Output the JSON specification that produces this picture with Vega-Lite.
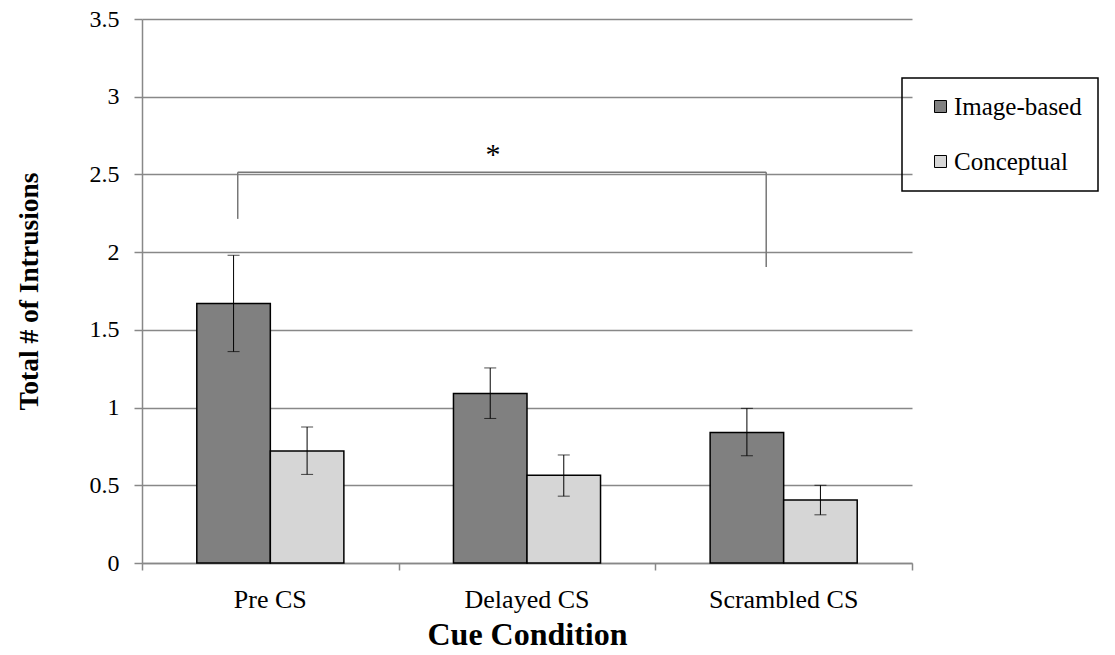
{
  "$schema": "https://vega.github.io/schema/vega-lite/v6.json",
  "width": 770,
  "height": 544,
  "autosize": {"type": "none"},
  "padding": {"left": 142, "top": 19, "right": 203, "bottom": 92},
  "background": "white",
  "config": {
    "font": "Liberation Serif",
    "view": {"stroke": null},
    "axis": {"labelColor": "black", "titleColor": "black", "labelFont": "Liberation Serif", "titleFont": "Liberation Serif"}
  },
  "datasets": {
    "bars": [
      {"cue": "Pre CS", "type": "Image-based", "mean": 1.67, "lo": 1.36, "hi": 1.98},
      {"cue": "Pre CS", "type": "Conceptual", "mean": 0.72, "lo": 0.57, "hi": 0.875},
      {"cue": "Delayed CS", "type": "Image-based", "mean": 1.09, "lo": 0.93, "hi": 1.255},
      {"cue": "Delayed CS", "type": "Conceptual", "mean": 0.565, "lo": 0.43, "hi": 0.695},
      {"cue": "Scrambled CS", "type": "Image-based", "mean": 0.84, "lo": 0.69, "hi": 0.995},
      {"cue": "Scrambled CS", "type": "Conceptual", "mean": 0.405, "lo": 0.31, "hi": 0.5}
    ],
    "bracket": [
      {"x": 0.373, "x2": 2.432, "y": 2.514, "y2": 2.514},
      {"x": 0.373, "x2": 0.373, "y": 2.514, "y2": 2.214},
      {"x": 2.432, "x2": 2.432, "y": 2.514, "y2": 1.905}
    ],
    "star": [
      {"x": 1.368, "y": 2.57, "label": "*"}
    ]
  },
  "layer": [
    {
      "data": {"name": "bars"},
      "encoding": {
        "x": {
          "field": "cue", "type": "nominal",
          "sort": ["Pre CS", "Delayed CS", "Scrambled CS"],
          "scale": {"paddingInner": 0.427, "paddingOuter": 0.2135},
          "axis": {
            "orient": "bottom", "title": "Cue Condition", "labelAngle": 0,
            "ticks": false, "tickSize": 0, "domain": true, "domainColor": "#888888", "domainWidth": 1.5,
            "labelFontSize": 26, "labelPadding": 23,
            "titleFontSize": 32, "titleFontWeight": "bold", "titlePadding": 7
          }
        },
        "xOffset": {"field": "type", "type": "nominal", "sort": ["Image-based", "Conceptual"], "scale": {"paddingInner": 0, "paddingOuter": 0}}
      },
      "layer": [
        {
          "mark": {"type": "bar", "stroke": "black", "strokeWidth": 1.5},
          "encoding": {
            "y": {
              "field": "mean", "type": "quantitative",
              "scale": {"domain": [0, 3.5], "nice": false},
              "axis": {
                "values": [0, 0.5, 1, 1.5, 2, 2.5, 3, 3.5], "format": "~g",
                "grid": true, "gridColor": "#888888", "gridWidth": 1.5,
                "domainColor": "#888888", "domainWidth": 1.5,
                "tickColor": "#888888", "tickWidth": 1.5, "tickSize": 8,
                "labelFontSize": 24, "labelPadding": 15,
                "title": "Total # of Intrusions", "titleFontSize": 27.5, "titleFontWeight": "bold", "titlePadding": 46
              }
            },
            "color": {
              "field": "type", "type": "nominal",
              "sort": ["Image-based", "Conceptual"],
              "scale": {"domain": ["Image-based", "Conceptual"], "range": ["#808080", "#d6d6d6"]},
              "legend": {
                "orient": "none", "legendX": 760, "legendY": 59, "title": null,
                "strokeColor": "black", "padding": 16,
                "symbolType": "square", "symbolSize": 144, "symbolStrokeColor": "black", "symbolStrokeWidth": 1,
                "symbolOffset": 10, "labelOffset": 1,
                "labelFontSize": 25, "labelFont": "Liberation Serif", "labelColor": "black",
                "rowPadding": 29,
                "encode": {"legend": {"update": {"strokeWidth": {"value": 1.5}}}}
              }
            }
          }
        },
        {
          "mark": {"type": "rule", "color": "black", "strokeWidth": 1},
          "encoding": {
            "y": {"field": "lo", "type": "quantitative", "scale": {"domain": [0, 3.5], "nice": false}},
            "y2": {"field": "hi"}
          }
        },
        {
          "mark": {"type": "tick", "color": "black", "size": 12, "thickness": 1},
          "encoding": {
            "y": {"field": "hi", "type": "quantitative", "scale": {"domain": [0, 3.5], "nice": false}}
          }
        },
        {
          "mark": {"type": "tick", "color": "black", "size": 12, "thickness": 1},
          "encoding": {
            "y": {"field": "lo", "type": "quantitative", "scale": {"domain": [0, 3.5], "nice": false}}
          }
        }
      ]
    },
    {
      "layer": [
        {
          "data": {"name": "bracket"},
          "mark": {"type": "rule", "color": "#777777", "strokeWidth": 1.5},
          "encoding": {
            "x": {
              "field": "x", "type": "quantitative",
              "scale": {"domain": [0, 3], "nice": false, "zero": false},
              "axis": {
                "orient": "bottom", "values": [0, 1, 2, 3], "labels": false, "domain": false, "grid": false,
                "ticks": true, "tickSize": 7, "tickColor": "#888888", "tickWidth": 1.5, "title": null
              }
            },
            "x2": {"field": "x2"},
            "y": {"field": "y", "type": "quantitative", "scale": {"domain": [0, 3.5], "nice": false}},
            "y2": {"field": "y2"}
          }
        },
        {
          "data": {"name": "star"},
          "mark": {"type": "text", "fontSize": 30, "font": "Liberation Serif", "color": "black", "baseline": "alphabetic", "align": "center"},
          "encoding": {
            "x": {"field": "x", "type": "quantitative", "scale": {"domain": [0, 3], "nice": false, "zero": false}},
            "y": {"field": "y", "type": "quantitative", "scale": {"domain": [0, 3.5], "nice": false}},
            "text": {"field": "label"}
          }
        }
      ]
    }
  ],
  "resolve": {"scale": {"x": "independent"}, "axis": {"x": "independent"}}
}
